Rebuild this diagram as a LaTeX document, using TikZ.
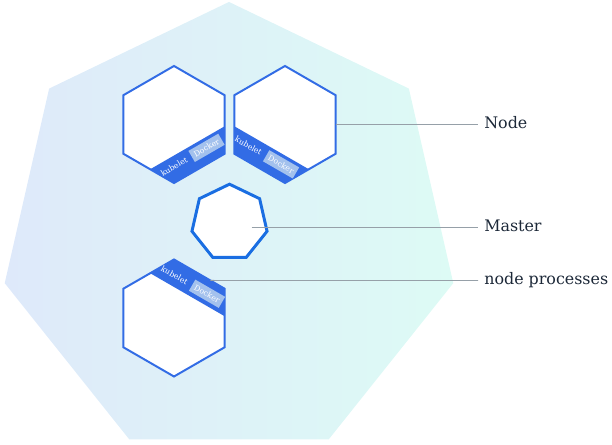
\documentclass[tikz,border=0pt]{standalone}
\usepackage{fontspec}
\setmainfont{DejaVu Serif}
\usetikzlibrary{shapes.geometric,calc}

\definecolor{kblue}{RGB}{50,108,229}
\definecolor{mblue}{RGB}{26,110,226}
\definecolor{dockbox}{RGB}{163,193,237}
\definecolor{polyL}{RGB}{222,233,250}
\definecolor{polyR}{RGB}{221,251,245}
\definecolor{ink}{RGB}{28,40,56}
\definecolor{leadgray}{RGB}{150,160,168}

\begin{document}
\begin{tikzpicture}[x=0.025cm, y=0.025cm,
    hepta/.style={regular polygon, regular polygon sides=7, inner sep=0pt, outer sep=0pt},
    hexa/.style={regular polygon, regular polygon sides=6, shape border rotate=30, minimum size=2.925cm, inner sep=0pt, outer sep=0pt, draw=kblue, line width=1.4pt, fill=white},
    band/.style={fill=kblue},
    kube/.style={text=white, font=\fontsize{5.5}{6.5}\selectfont, inner sep=0pt},
    dock/.style={kube, fill=dockbox, minimum height=0.32cm, minimum width=0.86cm},
    lbl/.style={anchor=west, text=ink, font=\fontsize{11.3}{13}\selectfont, inner sep=0.15cm, text height=1.6ex, text depth=0.4ex},
    leader/.style={draw=leadgray, line width=0.6pt},
  ]
  \useasboundingbox (0,0) rectangle (612,445);
  \node[hepta, minimum size=11.5cm, left color=polyL, right color=polyR] (cluster) at (229,213) {};

  \node[hexa] (h1) at (174,320.5) {};
  \node[hexa] (h2) at (285,320.5) {};
  \node[hexa] (h3) at (174,127) {};
  \node[hepta, minimum size=1.925cm, draw=mblue, line width=2.1pt, fill=white] (master) at (229.5,222.3) {};

  \fill[band] (h1.-90) -- (h1.-30) -- ($(h1.-30)!0.47!(h1.30)$) -- ($(h1.-90)!0.47!(h1.-150)$) -- cycle;
  \fill[band] (h2.-90) -- (h2.-150) -- ($(h2.-150)!0.47!(h2.150)$) -- ($(h2.-90)!0.47!(h2.-30)$) -- cycle;
  \fill[band] (h3.90) -- (h3.30) -- ($(h3.30)!0.47!(h3.-30)$) -- ($(h3.90)!0.47!(h3.150)$) -- cycle;

  \begin{scope}[shift={(h1.center)}, rotate=30, transform shape]
    \node[kube] (k1) at (-21,-36.5) {kubelet};
    \node[dock] (d1) at (16.5,-36.5) {Docker};
  \end{scope}
  \begin{scope}[shift={(h2.center)}, rotate=-30, transform shape]
    \node[kube] (k2) at (-21,-36.5) {kubelet};
    \node[dock] (d2) at (16.5,-36.5) {Docker};
  \end{scope}
  \begin{scope}[shift={(h3.center)}, rotate=-30, transform shape]
    \node[kube] (k3) at (-21,37.5) {kubelet};
    \node[dock] (d3) at (16.5,37.5) {Docker};
  \end{scope}

  \node[lbl] (nodelbl) at (478,320.5) {Node};
  \node[lbl] (masterlbl) at (478,217.8) {Master};
  \node[lbl] (proclbl) at (478,164.5) {node processes};

  \coordinate (mline) at ($(master.center)+(22,-4.5)$);
  \draw[leader] (h2.0) -- (nodelbl.west);
  \draw[leader] (mline) -- (masterlbl.west);
  \draw[leader] (h3.46) -- (proclbl.west);
\end{tikzpicture}
\end{document}
